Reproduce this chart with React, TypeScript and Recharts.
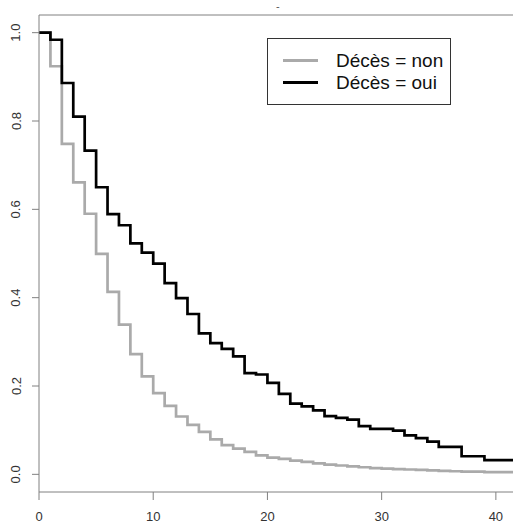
import { Legend, Line, LineChart, ReferenceLine, XAxis, YAxis } from 'recharts';

const times = [
  0, 1, 2, 3, 4, 5, 6, 7, 8, 9, 10, 11, 12, 13, 14, 15, 16, 17, 18, 19, 20,
  21, 22, 23, 24, 25, 26, 27, 28, 29, 30, 31, 32, 33, 34, 35, 36, 37, 38, 39,
  40, 41, 41.5,
];

// survival, Décès = non (gray)
const survieNon = [
  1.0, 0.924, 0.748, 0.661, 0.59, 0.499, 0.413, 0.339, 0.272, 0.222, 0.184,
  0.155, 0.131, 0.112, 0.096, 0.079, 0.066, 0.058, 0.051, 0.043, 0.038, 0.035,
  0.031, 0.028, 0.025, 0.022, 0.02, 0.018, 0.016, 0.014, 0.013, 0.012, 0.011,
  0.01, 0.009, 0.008, 0.007, 0.006, 0.006, 0.005, 0.005, 0.005, 0.005,
];

// survival, Décès = oui (black)
const survieOui = [
  1.0, 0.984, 0.886, 0.81, 0.733, 0.65, 0.589, 0.564, 0.523, 0.502, 0.477,
  0.433, 0.399, 0.363, 0.319, 0.297, 0.284, 0.267, 0.229, 0.226, 0.207, 0.182,
  0.16, 0.154, 0.145, 0.132, 0.128, 0.124, 0.109, 0.103, 0.103, 0.099, 0.088,
  0.082, 0.074, 0.062, 0.062, 0.041, 0.041, 0.032, 0.032, 0.032, 0.032,
];

const xTicks = [0, 10, 20, 30, 40];
const yTicks = [0, 0.2, 0.4, 0.6, 0.8, 1.0];
const seriesNames = ['Décès = non', 'Décès = oui'];

const data = times.map((t, i) => ({ t, non: survieNon[i], oui: survieOui[i] }));

const FONT = '"Liberation Sans", Arial, sans-serif';
const AXIS = '#808080';
const LABEL = '#333';

function YTick({ y, payload }: any) {
  return (
    <text
      x={16}
      y={y}
      transform={`rotate(-90 16 ${y})`}
      textAnchor="middle"
      dominantBaseline="central"
      fontFamily={FONT}
      fontSize={13}
      fill={LABEL}
    >
      {payload.value.toFixed(1)}
    </text>
  );
}

function XTick({ x, payload }: any) {
  return (
    <text
      x={x}
      y={516}
      textAnchor="middle"
      dominantBaseline="central"
      fontFamily={FONT}
      fontSize={13}
      fill={LABEL}
    >
      {payload.value}
    </text>
  );
}

function KmLegend() {
  const row = (color: string, label: string) => (
    <div style={{ display: 'flex', alignItems: 'center', height: 21.5 }}>
      <div style={{ width: 35, height: 3, background: color, marginLeft: 15 }} />
      <span style={{ marginLeft: 18 }}>{label}</span>
    </div>
  );
  return (
    <div
      style={{
        width: 184,
        height: 67,
        boxSizing: 'border-box',
        border: '1px solid #333',
        background: '#fff',
        paddingTop: 11,
        fontFamily: FONT,
        fontSize: 19,
        color: '#111',
        lineHeight: '21px',
      }}
    >
      {row('#aaaaaa', seriesNames[0])}
      {row('#000000', seriesNames[1])}
    </div>
  );
}

export default function App() {
  return (
    <div
      style={{
        position: 'absolute',
        left: 0,
        top: 0,
        width: 513,
        height: 522,
        background: '#fff',
      }}
    >
      <span
        style={{
          position: 'absolute',
          left: 276,
          top: 0,
          fontFamily: FONT,
          fontSize: 11,
          color: '#555',
        }}
      >
        -
      </span>
      <LineChart
        width={513}
        height={522}
        data={data}
        margin={{ top: 15, right: 0, bottom: 0, left: 0 }}
      >
        <XAxis
          dataKey="t"
          type="number"
          domain={[0, 41.5]}
          allowDataOverflow
          ticks={xTicks}
          interval={0}
          stroke={AXIS}
          tickSize={8}
          tick={<XTick />}
          height={30}
        />
        <YAxis
          type="number"
          domain={[-0.04, 1.04]}
          allowDataOverflow
          ticks={yTicks}
          interval={0}
          stroke={AXIS}
          tickSize={7}
          tick={<YTick />}
          width={39}
        />
        <ReferenceLine y={1.04} stroke={AXIS} strokeWidth={1} />
        <Legend
          layout="vertical"
          verticalAlign="middle"
          align="center"
          content={<KmLegend />}
          wrapperStyle={{ left: 267, top: 38, width: 184, height: 67 }}
        />
        <Line
          type="stepAfter"
          dataKey="non"
          name={seriesNames[0]}
          stroke="#aaaaaa"
          strokeWidth={2.7}
          dot={false}
          isAnimationActive={false}
        />
        <Line
          type="stepAfter"
          dataKey="oui"
          name={seriesNames[1]}
          stroke="#000000"
          strokeWidth={2.7}
          dot={false}
          isAnimationActive={false}
        />
      </LineChart>
    </div>
  );
}
